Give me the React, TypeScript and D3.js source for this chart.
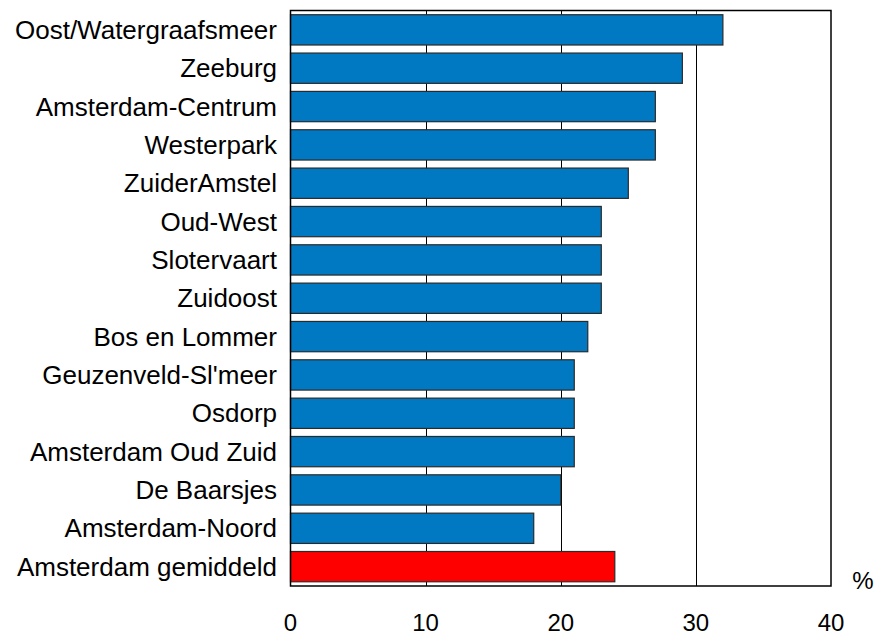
import React from "react";
import * as d3 from "d3";

const categories = [
  "Oost/Watergraafsmeer",
  "Zeeburg",
  "Amsterdam-Centrum",
  "Westerpark",
  "ZuiderAmstel",
  "Oud-West",
  "Slotervaart",
  "Zuidoost",
  "Bos en Lommer",
  "Geuzenveld-Sl'meer",
  "Osdorp",
  "Amsterdam Oud Zuid",
  "De Baarsjes",
  "Amsterdam-Noord",
  "Amsterdam gemiddeld",
];
const values = [32, 29, 27, 27, 25, 23, 23, 23, 22, 21, 21, 21, 20, 18, 24];
const xTicks = [0, 10, 20, 30, 40];
const gridTicks = [10, 20, 30];
const unitLabel = "%";

export default function App() {
  const W = 877;
  const H = 636;
  const left = 290.5;
  const right = 831;
  const top = 10.5;
  const bottom = 586;
  const x = d3.scaleLinear().domain([0, 40]).range([left, right]);
  const y = d3
    .scaleBand<string>()
    .domain(categories)
    .range([top, bottom])
    .paddingInner(0.21)
    .paddingOuter(0.11);
  const font = "Arial, 'Liberation Sans', sans-serif";
  return (
    <svg
      width={W}
      height={H}
      style={{ position: "absolute", left: 0, top: 0 }}
      fontFamily={font}
    >
      <rect x={0} y={0} width={W} height={H} fill="#fff" />
      {gridTicks.map((t) => (
        <line
          key={t}
          x1={Math.round(x(t)) + 0.5}
          x2={Math.round(x(t)) + 0.5}
          y1={top}
          y2={bottom}
          stroke="#000"
          strokeWidth={1}
        />
      ))}
      {categories.map((c, i) => (
        <rect
          key={c}
          x={x(0)}
          y={y(c)!}
          width={x(values[i]) - x(0)}
          height={y.bandwidth()}
          fill={i === categories.length - 1 ? "#FF0000" : "#0079C2"}
          stroke="#2a2a2a"
          strokeWidth={1.2}
        />
      ))}
      <rect
        x={left}
        y={top}
        width={right - left}
        height={bottom - top}
        fill="none"
        stroke="#000"
        strokeWidth={1.5}
      />
      {categories.map((c) => (
        <text
          key={c}
          x={277}
          y={y(c)! + y.bandwidth() / 2}
          textAnchor="end"
          dominantBaseline="central"
          fontSize={26}
          fill="#000"
        >
          {c}
        </text>
      ))}
      {xTicks.map((t) => (
        <text
          key={t}
          x={x(t)}
          y={631}
          textAnchor="middle"
          fontSize={24}
          fill="#000"
        >
          {t}
        </text>
      ))}
      <text x={863} y={589} textAnchor="middle" fontSize={24} fill="#000">
        {unitLabel}
      </text>
    </svg>
  );
}
